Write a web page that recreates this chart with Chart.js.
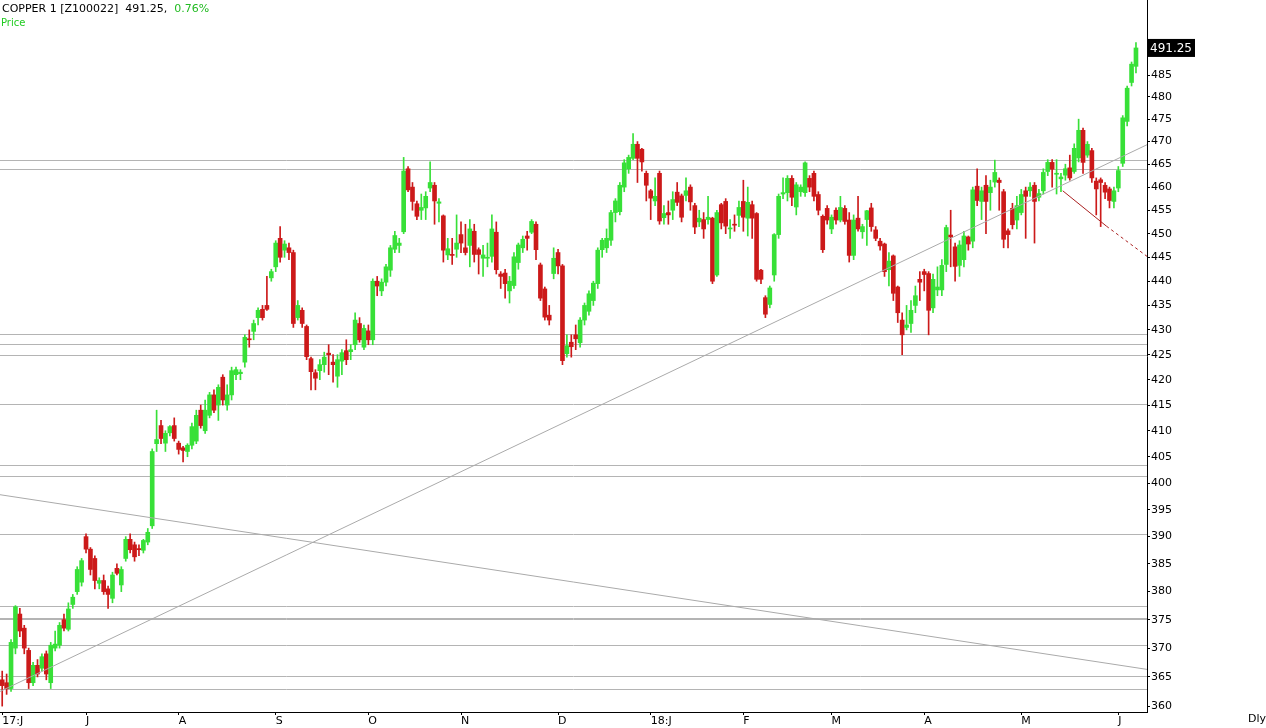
<!DOCTYPE html>
<html>
<head>
<meta charset="utf-8">
<script src="https://cdn.jsdelivr.net/npm/chart.js@4/dist/chart.umd.min.js"></script>
<style>
  body { margin: 0; background: #fff; }
  #wrap { position: relative; width: 1266px; height: 728px; }
  #title { position: absolute; left: 2px; top: 2px; font: 11px "DejaVu Sans", sans-serif; color: #000; }
  #title .g { color: #22bb22; }
  #sub { position: absolute; left: 1px; top: 17px; font: 10px "DejaVu Sans", sans-serif; color: #22cc22; }
  #dly { position: absolute; left: 1248px; top: 712px; font: 11px "DejaVu Sans", sans-serif; }
</style>
</head>
<body>
<div id="wrap">
  <canvas id="c" width="1266" height="728"></canvas>
  <div id="title">COPPER 1 [Z100022]&nbsp; 491.25,&nbsp; <span class="g">0.76%</span></div>
  <div id="sub">Price</div>
  <div id="dly">Dly</div>
</div>
<script>
// --- daily candles (open, high, low, close) ---
const candles = [
[364.5,366,360,363.5],[364,365.5,362,363],[363,371.5,362.5,371],[370,377.5,369,377.3],[376,377,372,373],
[373.5,374,369,370],[369.6,370,363,364],[364,367.5,363.5,367],[367,368,365,365.5],[366.5,369,366,368.5],
[369,369.5,364.5,365.5],[364,371,363,370.5],[370,373,369.5,370.7],[370.5,374.5,370,374],[375,376,373,373.5],
[373.3,378,373,376.9],[377.7,379.5,377,379],[380,384.5,379.5,384],[381.7,386,381,385.6],[390,390.5,387,387.7],
[387.7,388,383,384],[386,386.5,380.5,382],[381.5,382.5,380.5,382],[382,383,379.5,380],[380.5,381,377,379.5],
[378.8,383.5,378,383],[384.2,385,383,383.3],[381.2,384.5,380,384],[386,390,385.5,389.5],[389.5,390.5,387,387.6],
[388.5,389,385.5,386.3],[387.8,388.5,386.5,387.6],[387.5,389.5,387,389.3],[389,391.5,388.5,390.8],[392,406.5,391.5,406],
[407.5,414,406,408.3],[411,412,407.5,408.5],[407.6,410,406,409.5],[409.6,411,409,410.8],[411,412.5,408,408.5],
[407.6,408,405.5,406.4],[406.7,407,404,406.2],[406,407.5,405,407.2],[407.2,411.5,406.5,410.8],[408,414,407.5,413],
[414,415,410.5,411],[410,416,409.5,414],[413,417.5,412.5,417],[417,418,413.5,414],[415,419,412,418.5],
[420.5,421,415,416],[415,419,414,417],[417,422.5,416,421.8],[421,422.5,420,422],[421.2,422,420,421.5],
[423.5,429,422.5,428.5],[428.2,430,426.5,428],[429.7,432,428,431.3],[432.5,434.5,431,434],[434.2,435,432,432.5],
[435,441,434,434.2],[440.7,442.5,440,442],[443,448.5,442,448],[449,451.5,444,445],[446.5,448.5,445,447.8],
[447,448,444.5,446],[446,446.5,430.5,431.3],[432.5,436,432,435],[434,434.5,430.5,431.3],[430.7,431,424,424.6],
[424.2,424.5,418,421.6],[421.4,422,418,420.3],[421.8,424,420,423],[423,425.5,421.5,424.5],[425.3,427,421,425],
[423.5,425,419.5,423],[420.7,425,418.5,424],[423.7,426,421,425.4],[425.8,428,423,424],[425.6,427,424,426],
[427,433.5,426,432],[431.3,432.5,427.5,428],[426.5,431,426,430.3],[429.8,431,427,428],[428,440.5,427,440],
[440,441,437,439],[438,440.5,437,439.8],[439.8,443.5,439,443],[442.3,447.5,441,447],[446.7,450.5,446,449.6],
[447.5,449,446,448],[450.4,466.5,450,463.5],[464,464.5,459,459.4],[460,461,455,456.9],[456.4,457,453,453.7],
[455,458.5,453,455.6],[455.5,459,453,458],[459.8,465.5,459,461],[460.4,461,452,457],[456.5,457.5,452.5,456.8],
[453.8,454,444,446.5],[445.5,449,444.5,446.8],[445.6,449,443.5,445.4],[446.7,454,445,448],[449.8,452.5,446,448],
[447,452,445.5,446],[447.5,453,443,451],[450.5,452,444,445.6],[446.6,447,441.5,445.6],[444.8,447.5,441,445.5],
[444.8,448,443,445],[445.2,454,444,451],[450.3,452.5,441.5,442.4],[441.5,442,438.5,441],[441.7,442.5,436.5,439.5],
[438,441,435.5,440],[439.1,446,438.5,445.1],[443.9,448,442.5,447.6],[447,449.5,446,448.8],[449.5,450.5,446.5,449],
[450.3,453,450,452.6],[452,452.5,444.5,446.6],[443.4,443.8,436,436.5],[438.4,438.8,432,432.6],[433,435,431,432],
[441.6,447,440.5,444.8],[446,446.7,441.5,443.2],[443.2,443.5,423,423.8],[425.2,429,424.5,426.8],[427.5,429,424.5,426.6],
[429,431,426,428.2],[427.4,432.5,426.5,432],[432,435.5,431,435],[433.8,438,433,437.4],[436,440,435,439.6],
[439.5,447,438.5,446.5],[446.6,449,445,448.6],[447,451,446,449],[448.6,455,447.5,454.5],[454.5,457.5,452.5,457],
[454.7,461,454,460.4],[460,466,459,465.3],[464,467,463,466.5],[466.3,471.8,466,469.4],[469.4,470,461,466.3],
[468.3,468.5,463.5,465.5],[463,463.5,457,460.4],[459.2,459.5,453,457.6],[457,462,456,458],[463,463.5,452,452.7],
[453.4,456,452,454.3],[454.5,457,452,454],[455,459,453,457.3],[458.9,461,456,456.7],[458.1,458.5,452.5,453.5],
[458.2,462,457,459.2],[460,460.5,455,456.8],[456,456.5,450,451.4],[452.5,455,451.5,453.3],[453,454.5,449,451],
[453,458,452,453.5],[453.3,453.5,439.5,440],[441.3,455,441,454.5],[456.2,456.5,451,452.3],[456.9,457.5,450,451.6],
[451,453,449,451.2],[452,454,450.5,451.8],[453.9,457,451.5,455.6],[456.9,461.5,450.5,453.5],[453.3,460,449.5,456.7],
[456.2,457,449,453.3],[454.3,454.5,440,440.4],[442.3,442.5,439.5,440.4],[436.6,437,432.5,433.2],[435.2,439,434.5,438.6],
[441.3,450,440,449.8],[449.8,458.5,449,458],[458.5,462,457.5,458.8],[458.8,462.5,457,461.9],[461.9,462.5,456,457.8],
[455.7,461,454,460.5],[459,460.5,458,460],[458.8,465.5,458,465.3],[461.9,462.5,459,460],[463,463.5,457,458],
[458.4,459,454,455],[453.7,454,446,446.6],[455.4,456,452,452.9],[451,454,450,453.5],[455,455.5,452,452.9],
[452.9,458,452.5,455.6],[455.4,456,452,452.6],[452.9,454.5,444,445.4],[445.4,454,444.5,452.9],[453.3,458,450.5,451],
[450.4,452,449,451.5],[453,455,447.5,454.9],[455.5,456.5,450.5,451.5],[450.8,451.5,448.5,449],[448.4,449,446.5,447.4],
[447.8,448,441,442],[442.4,446,439,444.2],[445.3,445.5,436,437.5],[438.8,439,431.5,433.5],[432,433.5,425,429],
[430.5,435,430,431],[431.3,436,429.5,434],[435,439,433.5,437],[440.4,442,436,439.8],[442,442.5,438,441.4],
[441.6,442,429,434],[434.5,441.5,433.5,440.4],[438.2,443,437,438.8],[438.2,444.5,437,443.3],[443.5,451.8,442,451.3],
[449.7,455,443,449.3],[447.2,448,440,443.1],[443.3,448.5,441,447.6],[444.5,450.5,443,449.5],[449.3,449.5,446.5,447.8],
[448.4,460,447,459.4],[460.2,464,456,457.1],[456.9,460,453,459.2],[460.4,462.5,450,456.9],[458.8,461.5,455,460],
[461.1,465.9,460,463.2],[461.5,462,455,461],[459,459.5,447,448.8],[450.6,451,447,449.8],[455.4,456.5,451,451.9],
[452.9,458,451,456],[454.5,459.5,454,458.4],[459.2,460,449,458],[459.2,461,458,460],[460.4,461,448,456.9],
[457.8,459.5,457,458.6],[459.2,464,458.5,463.2],[463.4,466,462.5,465.4],[465.4,466,460,463.9],[462.8,466,458.5,463],
[461.8,463,459,462.2],[462.6,465,461.5,464],[464.2,467,461.5,462],[463.4,469.5,463,468.5],[466.4,475,465.5,472.5],
[472.5,473,463,465.4],[467,470,466.5,469.4],[468,468.5,461,462],[461.3,462,454,459.6],[461.6,462,451.5,461],
[460.4,461,457.5,458.9],[459.6,460,455.5,457.1],[456.9,460,455.5,459.2],[459.8,464.5,459,463.6],[465.2,475.8,464.5,475.3],
[474.5,482.5,473.5,482],[483.3,488,482.5,487.5],[487,492.5,485.5,491.25]
];

// month starts on the time axis (candle index) and their labels
const monthIdx = [0, 19, 40, 62, 83, 104, 126, 147, 168, 188, 209, 231, 253];
const monthLabels = ['17:J', 'J', 'A', 'S', 'O', 'N', 'D', '18:J', 'F', 'M', 'A', 'M', 'J'];

// horizontal support / resistance levels
const levels = [465.9, 464.0, 429.2, 427.2, 425.0, 415.2, 403.4, 401.4, 390.4, 377.5, 375.3, 375.1, 370.6, 365.1, 362.9];

// drawn trend lines: [x0, y0, x1, y1]
const riseLine = [-0.5, 362.5, 259.5, 469.3];
const fallLine = [-0.5, 397.8, 259.5, 366.3];
const redSolid = [240.4, 459.2, 250.3, 451.6];
const redDashed = [250.3, 451.6, 259.5, 445.2];

const yTicks = [];
for (let v = 360; v <= 490; v += 5) yTicks.push(v);

const GREEN = '#38e038', RED = '#cc1a1a';

const bodies = candles.map((c, i) => ({ x: i, y: [c[0], c[3]] }));
const wicks = candles.map((c, i) => ({ x: i, y: [c[2], c[1]] }));
const colors = candles.map(c => c[3] >= c[0] ? GREEN : RED);

function seg(s) { return [{ x: s[0], y: s[1] }, { x: s[2], y: s[3] }]; }

const levelPlugin = {
    id: 'levels',
    beforeDatasetsDraw(chart) {
        const { ctx, chartArea, scales } = chart;
        ctx.save();
        ctx.strokeStyle = '#b4b4b4';
        ctx.lineWidth = 1;
        levels.forEach(v => {
            const y = Math.round(scales.y.getPixelForValue(v)) + 0.5;
            ctx.beginPath();
            ctx.moveTo(chartArea.left, y);
            ctx.lineTo(chartArea.right, y);
            ctx.stroke();
        });
        ctx.restore();
    },
    afterDraw(chart) {
        const { ctx, chartArea, scales } = chart;
        const last = candles[candles.length - 1][3];
        const y = scales.y.getPixelForValue(last);
        ctx.save();
        ctx.fillStyle = '#000';
        ctx.fillRect(chartArea.right + 1, y - 9, 47, 18);
        ctx.fillStyle = '#fff';
        ctx.font = '12px "DejaVu Sans"';
        ctx.textBaseline = 'middle';
        ctx.fillText(last.toFixed(2), chartArea.right + 3, y + 1);
        ctx.restore();
    }
};

new Chart(document.getElementById('c'), {
    type: 'bar',
    data: {
        datasets: [
            { type: 'line', data: seg(riseLine), borderColor: '#aaaaaa', borderWidth: 1, pointRadius: 0 },
            { type: 'line', data: seg(fallLine), borderColor: '#aaaaaa', borderWidth: 1, pointRadius: 0 },
            { type: 'line', data: seg(redSolid), borderColor: '#aa2020', borderWidth: 1, pointRadius: 0 },
            { type: 'line', data: seg(redDashed), borderColor: '#aa2020', borderWidth: 1, pointRadius: 0, borderDash: [3, 3] },
            { data: wicks, backgroundColor: colors, barThickness: 1, grouped: false },
            { data: bodies, backgroundColor: colors, barThickness: 4, grouped: false, minBarLength: 1 }
        ]
    },
    options: {
        responsive: false,
        animation: false,
        devicePixelRatio: 1,
        layout: { padding: 0 },
        plugins: { legend: { display: false }, tooltip: { enabled: false } },
        scales: {
            x: {
                type: 'linear', min: -0.5, max: 259.5, offset: false,
                afterBuildTicks: s => { s.ticks = monthIdx.map(v => ({ value: v })); },
                afterFit: s => { s.height = 16; s.paddingLeft = 0; s.paddingRight = 0; },
                ticks: {
                    autoSkip: false, maxRotation: 0, padding: 0, align: 'start',
                    font: { size: 11, family: 'DejaVu Sans' }, color: '#000',
                    callback: v => monthLabels[monthIdx.indexOf(v)] || ''
                },
                grid: { drawOnChartArea: false, tickLength: 3, color: '#000', offset: false },
                border: { color: '#000' }
            },
            y: {
                type: 'logarithmic', position: 'right', min: 359, max: 502.5,
                afterBuildTicks: s => { s.ticks = yTicks.map(v => ({ value: v })); },
                afterFit: s => { s.width = 119; s.paddingTop = 0; s.paddingBottom = 0; },
                ticks: {
                    autoSkip: false, padding: 1,
                    font: { size: 11, family: 'DejaVu Sans' }, color: '#000',
                    callback: v => String(v)
                },
                grid: { drawOnChartArea: false, tickLength: 3, color: '#000' },
                border: { color: '#000' }
            }
        }
    },
    plugins: [levelPlugin]
});
</script>
</body>
</html>
